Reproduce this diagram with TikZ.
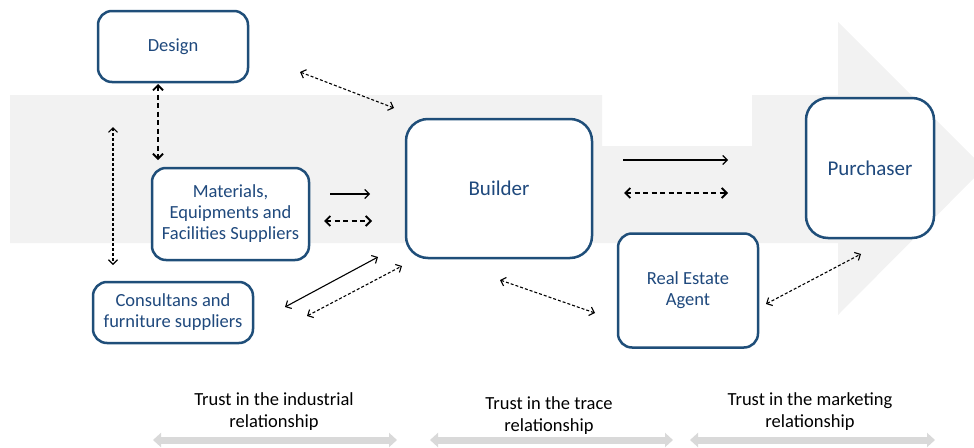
\documentclass[tikz,border=0pt]{standalone}
\usepackage{fontspec}
\setmainfont{Carlito}
\usetikzlibrary{arrows.meta}
\definecolor{bandgray}{HTML}{F2F2F2}
\definecolor{boxblue}{HTML}{1F4E79}
\definecolor{textblue}{HTML}{1F497D}
\definecolor{bargray}{HTML}{D9D9D9}
\begin{document}
\begin{tikzpicture}[x=1pt,y=-1pt,
  box/.style={draw=boxblue, line width=2.5pt, fill=white, rounded corners=14pt,
    text=textblue, font=\fontsize{18.5}{21}\selectfont, align=center, inner sep=0pt},
  bigbox/.style={box, rounded corners=22pt, font=\fontsize{21}{25}\selectfont},
  barb/.tip={Straight Barb[length=4.5pt,width=9pt]},
  bigbarb/.tip={Straight Barb[length=5pt,width=10pt]},
  bartip/.tip={Triangle[length=8pt,width=14pt]},
  thindash/.style={line width=1.1pt, dash pattern=on 3pt off 2pt, barb-barb},
  thickdash/.style={line width=1.8pt, dash pattern=on 5pt off 3.5pt, bigbarb-bigbarb},
  solidone/.style={line width=1.1pt, -barb},
  soliddouble/.style={line width=1.1pt, barb-barb},
  label/.style={align=center, font=\fontsize{18.5}{22}\selectfont, inner sep=0pt},
  bar/.style={draw=bargray, line width=7pt, bartip-bartip}
]
\useasboundingbox (0,0) rectangle (974,447);
\begin{scope}
\clip (0,0) rectangle (974,447);
\fill[bandgray] (10,95) -- (602,95) -- (602,146) -- (752,146) -- (752,95) -- (838,95)
  -- (838,22) -- (984,168) -- (838,315) -- (838,243) -- (10,243) -- cycle;
\end{scope}

% boxes
\node[box, minimum width=150pt, minimum height=71pt] (design) at (173,46.5) {Design};
\node[box, minimum width=157pt, minimum height=92pt] (mat) at (230.5,214) {Materials,\\Equipments and\\Facilities Suppliers};
\node[box, minimum width=160pt, minimum height=61pt] (cons) at (173,312.5) {Consultans and\\furniture suppliers};
\node[bigbox, minimum width=186pt, minimum height=139pt] (builder) at (499,188.5) {Builder};
\node[bigbox, minimum width=128pt, minimum height=140pt] (purch) at (870,168) {Purchaser};
\node[box, minimum width=140pt, minimum height=114pt] (agent) at (688,290.5) {Real Estate\\Agent};

% connector end points
\coordinate (a1) at (158,84);   \coordinate (a2) at (158,160);
\coordinate (b1) at (113,127);  \coordinate (b2) at (113,265);
\coordinate (c1) at (300,72);   \coordinate (c2) at (394,108);
\coordinate (e1) at (330,194);  \coordinate (e2) at (370,194);
\coordinate (f1) at (324,221);  \coordinate (f2) at (372,221);
\coordinate (g1) at (285,307);  \coordinate (g2) at (378,257);
\coordinate (h1) at (307,316);  \coordinate (h2) at (402,266);
\coordinate (i1) at (623,160);  \coordinate (i2) at (728,160);
\coordinate (j1) at (624,193);  \coordinate (j2) at (728,193);
\coordinate (k1) at (500,280);  \coordinate (k2) at (595,313);
\coordinate (l1) at (766,304);  \coordinate (l2) at (861,254);

\draw[thickdash] (a1) -- (a2);
\draw[thindash] (b1) -- (b2);
\draw[thindash] (c1) -- (c2);
\draw[solidone] (e1) -- (e2);
\draw[thickdash] (f1) -- (f2);
\draw[soliddouble] (g1) -- (g2);
\draw[thindash] (h1) -- (h2);
\draw[solidone] (i1) -- (i2);
\draw[thickdash] (j1) -- (j2);
\draw[thindash] (k1) -- (k2);
\draw[thindash] (l1) -- (l2);

% bottom labels
\node[label] (t1) at (274,412) {Trust in the industrial\\relationship};
\node[label] (t2) at (549,416) {Trust in the trace\\relationship};
\node[label] (t3) at (810,412) {Trust in the marketing\\relationship};

\coordinate (m1) at (153,440); \coordinate (m2) at (397,440);
\coordinate (n1) at (430,440); \coordinate (n2) at (673,440);
\coordinate (o1) at (690,440); \coordinate (o2) at (935,440);
\draw[bar] (m1) -- (m2);
\draw[bar] (n1) -- (n2);
\draw[bar] (o1) -- (o2);
\end{tikzpicture}
\end{document}
